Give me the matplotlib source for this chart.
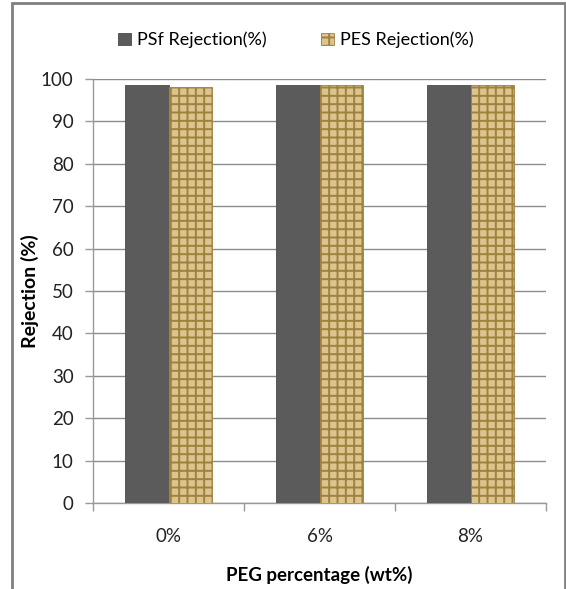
import matplotlib
matplotlib.use("Agg")
import matplotlib.pyplot as plt
import numpy as np
from matplotlib.patches import Rectangle

categories = ["0%", "6%", "8%"]
psf_rejection = [98.7, 98.5, 98.5]
pes_rejection = [98.2, 98.5, 98.6]
series_names = ["PSf Rejection(%)", "PES Rejection(%)"]
yticks = list(range(0, 101, 10))

plt.rcParams['font.family'] = ['Lato', 'DejaVu Sans']
plt.rcParams['hatch.linewidth'] = 1.4

W, H = 566, 589
fig = plt.figure(figsize=(W / 100, H / 100), dpi=100)
ax = fig.add_axes([93 / W, 1 - 503 / H, (546 - 93) / W, (503 - 79) / H])

x = np.arange(len(categories))
bw = 0.288
ax.bar(x - bw / 2, psf_rejection, bw, color="#5b5b5b", edgecolor="#4a4a4a", linewidth=0.6, zorder=3,
       label=series_names[0])
ax.bar(x + bw / 2, pes_rejection, bw, color="#dcc48e", edgecolor="#a0823f", hatch="++",
       linewidth=0.6, zorder=3, label=series_names[1])

ax.set_xlim(-0.5, len(categories) - 0.5)
ax.set_ylim(0, 100)
ax.set_yticks(yticks)
ax.set_xticks(x)
ax.set_xticklabels(categories)
ax.set_xticks(np.arange(-0.5, len(categories)), minor=True)
ax.tick_params(axis='x', which='major', length=0, pad=18, labelsize=13.5, colors='#222222')
ax.tick_params(axis='x', which='minor', length=6, color='#999999', width=1)
ax.tick_params(axis='y', length=6, color='#999999', width=1, labelsize=13.5, colors='#222222', pad=8)
ax.grid(axis='y', color='#8c8c8c', linewidth=1, zorder=0)
for s in ['top', 'right']:
    ax.spines[s].set_visible(False)
for s in ['left', 'bottom']:
    ax.spines[s].set_color('#999999')
    ax.spines[s].set_linewidth(1)

ax.set_ylabel("Rejection (%)", fontsize=14, fontweight='bold')
ax.yaxis.set_label_coords((30 - 93) / (546 - 93), 0.5)
ax.set_xlabel("PEG percentage (wt%)", fontsize=13.5, fontweight='bold')
ax.xaxis.set_label_coords(0.5, -(575 - 503) / (503 - 79))
ax.xaxis.label.set_va('center')
ax.yaxis.label.set_va('center')

leg = fig.legend(loc='center', bbox_to_anchor=(296 / W, 1 - 40 / H), ncol=2, frameon=False,
                 fontsize=13, handlelength=0.7, handleheight=0.7, handletextpad=0.35,
                 columnspacing=3.0)

# outer frame
fig.patches.append(Rectangle((12 / W, -0.05), (565 - 12) / W, 1 - 3 / H + 0.05,
                             transform=fig.transFigure, fill=False, edgecolor='#808080',
                             linewidth=2))

fig.savefig("out.png", dpi=100)
